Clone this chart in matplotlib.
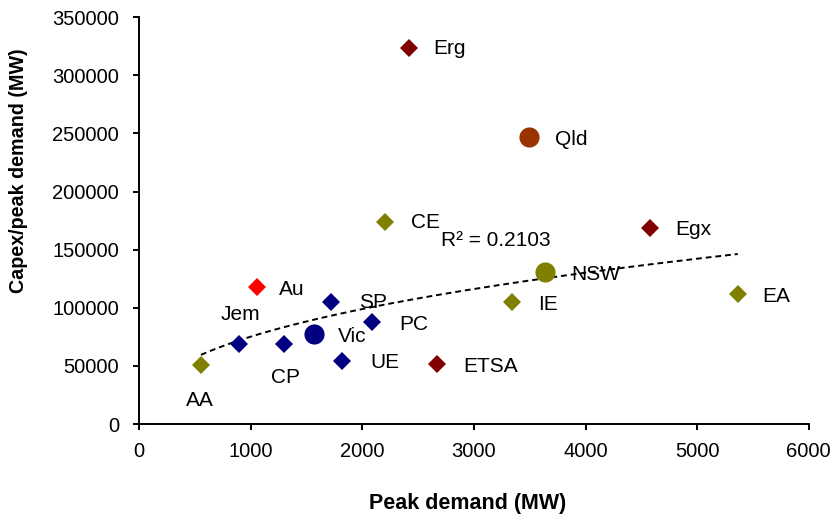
import numpy as np
import matplotlib.pyplot as plt

plt.rcParams['font.family'] = ['Liberation Sans', 'DejaVu Sans']

# Distributor data
names = ['Erg', 'Qld', 'CE', 'Egx', 'NSW', 'EA', 'IE', 'Au', 'SP', 'PC',
         'Vic', 'Jem', 'CP', 'UE', 'ETSA', 'AA']
peak = [2418, 3492, 2203, 4576, 3636, 5364, 3340, 1057, 1719, 2087,
        1567, 895, 1298, 1818, 2669, 555]
capex = [323300, 246800, 173700, 168500, 130700, 111800, 104900, 117800, 104900, 87700,
         77400, 68800, 68800, 54200, 51600, 50700]
colors = ['#800000', '#993300', '#808000', '#800000', '#808000', '#808000', '#808000', '#FF0000',
          '#000080', '#000080', '#000080', '#000080', '#000080', '#000080', '#800000', '#808000']
shapes = ['D', 'o', 'D', 'D', 'o', 'D', 'D', 'D', 'D', 'D', 'o', 'D', 'D', 'D', 'D', 'D']
# label offsets in pixels (dx, dy)
offsets = [(24, 0), (26, -2), (26, 0), (25, -1), (26, -2), (24, -2), (26, -2), (22, -2),
           (28, 0), (27, -2), (24, -2), (1, 30), (2, -33), (28, -1), (26, -2), (-1, -35)]

# power trendline y = a * x^b as shown on the chart
trend_a = 4878
trend_b = 0.396
r2_text = 'R² = 0.2103'

fig = plt.figure(figsize=(8.39, 5.16), dpi=100)
ax = fig.add_axes([0.1657, 0.178, 0.7983, 0.789])

for x, y, c, m in zip(peak, capex, colors, shapes):
    ms = 14.5 if m == 'o' else 9.5
    ax.plot(x, y, marker=m, color=c, markersize=ms, markeredgewidth=0, linestyle='none', zorder=3)

xs = np.linspace(min(peak), max(peak), 200)
ax.plot(xs, trend_a * xs ** trend_b, color='black', linestyle=(0, (3, 2)), linewidth=1.4, zorder=2)

for n, x, y, (dx, dy) in zip(names, peak, capex, offsets):
    ha = 'left' if abs(dx) > 10 else 'center'
    ax.annotate(n, (x, y), xytext=(dx * 0.72, dy * 0.72), textcoords='offset points',
                ha=ha, va='center', fontsize=15, zorder=4)

ax.annotate(r2_text, (0, 0), xytext=(441, 516 - 240), textcoords='figure pixels',
            ha='left', va='center', fontsize=15)

ax.set_xlim(0, 6000)
ax.set_ylim(0, 350000)
ax.set_xticks(np.arange(0, 6001, 1000))
ax.set_yticks(np.arange(0, 350001, 50000))
ax.tick_params(direction='out', length=4.5, width=1.4, labelsize=14.5, color='black')
ax.tick_params(axis='y', pad=10)
ax.tick_params(axis='x', pad=8)
for s in ['top', 'right']:
    ax.spines[s].set_visible(False)
for s in ['left', 'bottom']:
    ax.spines[s].set_linewidth(1.4)

ax.set_xlabel('Peak demand (MW)', fontsize=15.5, fontweight='bold')
ax.set_ylabel('Capex/peak demand (MW)', fontsize=14.2, fontweight='bold')
ax.xaxis.set_label_coords(0.49, -0.170)
ax.yaxis.set_label_coords(-0.166, 0.622)

fig.savefig('out.png', dpi=100)
